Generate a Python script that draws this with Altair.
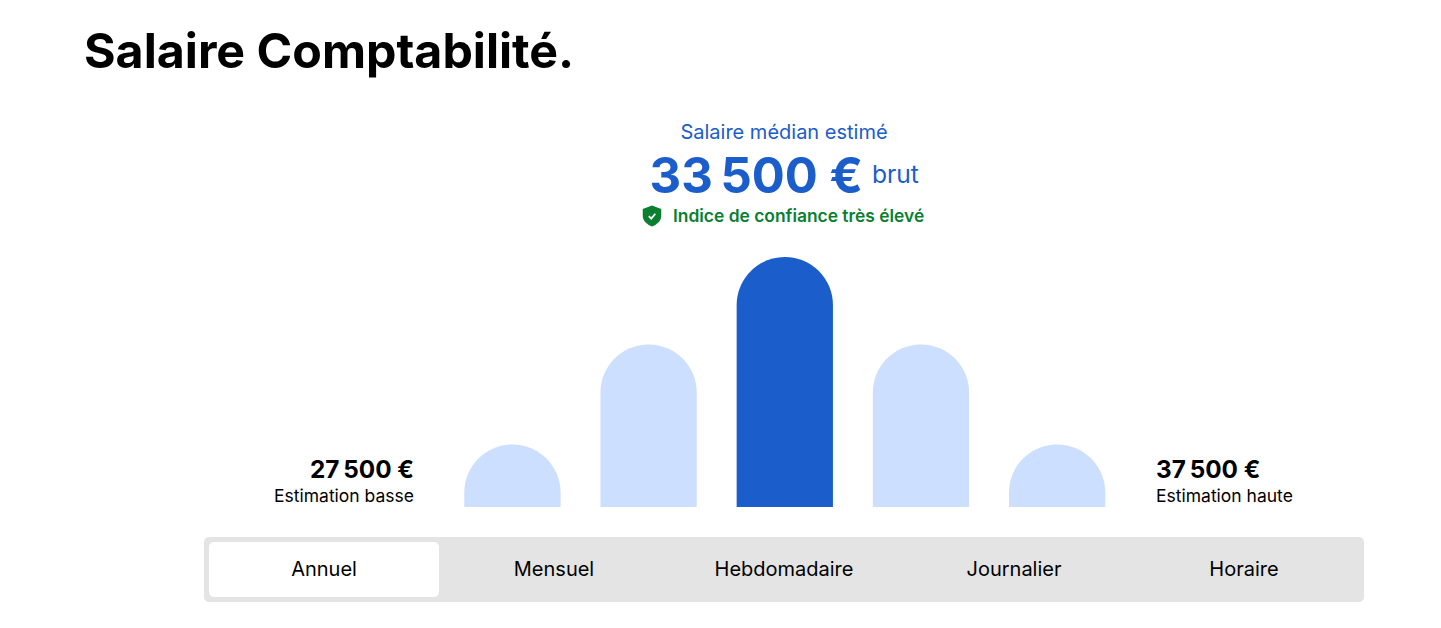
import pandas as pd
import altair as alt

# bar heights, relative to the median bar
bands = ["b1", "b2", "b3", "b4", "b5"]
band_values = [25, 65, 100, 65, 25]
band_state = ["side", "side", "median", "side", "side"]

tabs = ["Annuel", "Mensuel", "Hebdomadaire", "Journalier", "Horaire"]
active_tab = "Annuel"

title = "Salaire Comptabilité."
median_caption = "Salaire médian estimé"
median_value = "33\u202f500 €"
median_unit = "brut"
confidence = "Indice de confiance très élevé"
low_value = "27\u202f500 €"
low_caption = "Estimation basse"
high_value = "37\u202f500 €"
high_caption = "Estimation haute"

BLUE = "#1a5dcb"
LIGHT = "#cddffe"
GREEN = "#0a7f30"
GREY = "#e4e4e4"
FONT = "Inter"

SHIELD = "M0,-1 L0.88,-0.66 L0.88,0 C0.88,0.5 0.42,0.84 0,1 C-0.42,0.84 -0.88,0.5 -0.88,0 L-0.88,-0.66 Z"
CHECK = "M-0.42,0.02 L-0.1,0.34 L0.44,-0.3"


def label(text, x, y, size, weight=400, color="#000000", align="left"):
    # page pixels, minus the 8px body margin
    return alt.Chart(pd.DataFrame({"t": [text]})).mark_text(
        font=FONT, fontSize=size, fontWeight=weight, color=color,
        align=align, baseline="alphabetic",
    ).encode(x=alt.value(x - 8), y=alt.value(y - 8), text="t:N")


# bars run on below the baseline so vega keeps the full corner radius on the
# short ones, the white strip and the tab track afterwards hide that part
bars = alt.Chart(pd.DataFrame({"band": bands, "value": band_values, "state": band_state})).mark_bar(
    cornerRadiusTopLeft=48, cornerRadiusTopRight=48
).encode(
    x=alt.X("band:N", axis=None, sort=bands,
            scale=alt.Scale(domain=bands, range=[456.3, 1097.3], paddingInner=0.293, paddingOuter=0)),
    y=alt.Y("value:Q", axis=None, scale=alt.Scale(domain=[0, 100], range=[499, 249])),
    y2=alt.datum(-13.4),
    color=alt.Color("state:N", legend=None,
                    scale=alt.Scale(domain=["side", "median"], range=[LIGHT, BLUE])),
)
bar_cover = alt.Chart(pd.DataFrame({"k": ["cover"]})).mark_rect(color="#ffffff").encode(
    x=alt.value(450), x2=alt.value(1105), y=alt.value(499), y2=alt.value(531)
)

tab_x = alt.X("tab:N", axis=None, sort=tabs,
              scale=alt.Scale(domain=tabs, range=[201, 1351], paddingInner=0, paddingOuter=0))
tab_data = pd.DataFrame({"tab": tabs})

tab_track = alt.Chart(pd.DataFrame({"k": ["track"]})).mark_rect(color=GREY, cornerRadius=5).encode(
    x=alt.value(196), x2=alt.value(1356), y=alt.value(529), y2=alt.value(594)
)
tab_active = alt.Chart(tab_data[tab_data["tab"] == active_tab]).mark_bar(
    color="#ffffff", cornerRadius=5
).encode(
    x=alt.X("tab:N", axis=None, sort=tabs,
            scale=alt.Scale(domain=tabs, range=[201, 1351], paddingInner=0, paddingOuter=0)),
    y=alt.value(534), y2=alt.value(589),
)
tab_text = alt.Chart(tab_data).mark_text(
    font=FONT, fontSize=20, color="#000000", baseline="alphabetic"
).encode(x=tab_x, y=alt.value(568), text="tab:N")

shield = alt.Chart(pd.DataFrame({"k": ["shield"]})).mark_point(
    shape=SHIELD, filled=True, color=GREEN, opacity=1, size=441
).encode(x=alt.value(644), y=alt.value(208))
check = alt.Chart(pd.DataFrame({"k": ["check"]})).mark_point(
    shape=CHECK, filled=False, color="#ffffff", opacity=1, size=225, strokeWidth=1.8
).encode(x=alt.value(644), y=alt.value(208))

chart = alt.layer(
    bars,
    bar_cover,
    tab_track,
    tab_active,
    tab_text,
    shield,
    check,
    label(title, 84, 68, 48.3, 700),
    label(median_caption, 784, 139, 20, 400, BLUE, "center"),
    label(median_value, 649.5, 193, 49, 700, BLUE),
    label(median_unit, 872, 183, 24.6, 400, BLUE),
    label(confidence, 673, 222, 17.4, 600, GREEN),
    label(low_value, 414, 478, 24.3, 700, "#000000", "right"),
    label(low_caption, 414, 502, 17.5, 400, "#000000", "right"),
    label(high_value, 1156, 478, 24.3, 700),
    label(high_caption, 1156, 502, 17.5, 400),
).resolve_scale(x="independent", y="independent", color="independent").properties(
    width=1420, height=608, padding=0, background="#ffffff"
).configure_view(stroke=None)

chart.save("out.html", embed_options={"renderer": "svg", "actions": False})
